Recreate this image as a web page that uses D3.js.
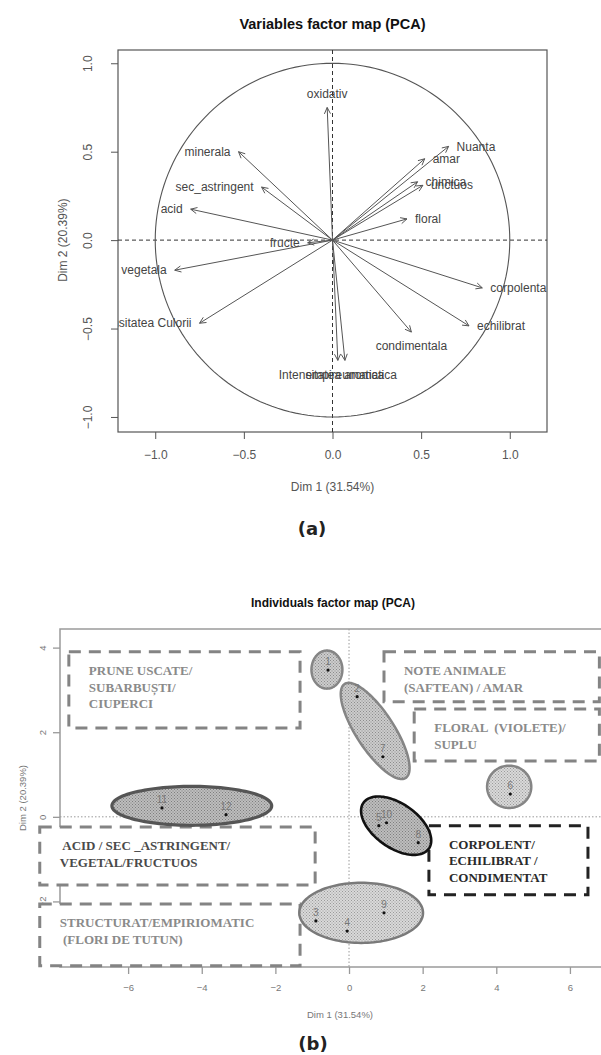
<!DOCTYPE html>
<html><head><meta charset="utf-8">
<script src="https://cdn.jsdelivr.net/npm/d3@7"></script>
<style>body{margin:0;background:#fff} svg{display:block}</style>
</head><body><svg id="c" width="601" height="1055"></svg>
<script>
// ---------- (a) Variables factor map ----------
const varNames = ["oxidativ","minerala","sec_astringent","acid","fructe","vegetala","Intensitatea Culorii","Nuanta","amar","chimica","unctuos","floral","corpolenta","echilibrat","condimentala","Intensitatea aromatica","empireumatica"];
const varDim1 = [-0.03,-0.53,-0.40,-0.80,-0.14,-0.89,-0.75,0.655,0.52,0.48,0.51,0.42,0.845,0.77,0.445,0.03,0.07];
const varDim2 = [0.75,0.50,0.30,0.175,-0.015,-0.17,-0.47,0.53,0.46,0.33,0.31,0.12,-0.27,-0.485,-0.52,-0.68,-0.68];
const varTicks = [-1.0,-0.5,0.0,0.5,1.0];

// ---------- (b) Individuals factor map ----------
const indLabels = ["1","2","3","4","5","6","7","8","9","10","11","12"];
const indDim1 = [-0.57,0.22,-0.90,-0.05,0.81,4.38,0.92,1.88,0.95,1.02,-5.08,-3.34];
const indDim2 = [3.47,2.84,-2.46,-2.70,-0.21,0.54,1.42,-0.61,-2.27,-0.14,0.21,0.05];
const indXTicks = [-6,-4,-2,0,2,4,6];
const indYTicks = [-2,0,2,4];

// group ellipses (centre and two semi-axis vectors, in Dim units)
const ellCx = [-0.60, 0.71, 4.35, -4.27, 1.28, 0.33];
const ellCy = [3.48, 2.03, 0.71, 0.26, -0.21, -2.27];
const ellUx = [0.42, 0.83, 0.60, 2.17, 0.89, 1.68];
const ellUy = [0.00, -1.11, 0.00, 0.00, -0.54, 0.00];
const ellVx = [0.00, 0.43, 0.00, 0.00, 0.34, 0.00];
const ellVy = [0.45, 0.245, 0.50, 0.46, 0.43, 0.71];

// descriptor boxes (in Dim units)
const boxX0 = [-7.61, 0.95, 1.77, -8.40, -8.40, 2.17];
const boxX1 = [-1.33, 6.80, 6.80, -0.92, -1.33, 6.49];
const boxYTop = [3.90, 3.90, 2.55, -0.24, -2.06, -0.21];
const boxYBot = [2.10, 2.72, 1.32, -1.61, -3.52, -1.84];
const boxText = [
  ["PRUNE USCATE/","SUBARBUȘTI/","CIUPERCI"],
  ["NOTE ANIMALE","(SAFTEAN) / AMAR"],
  ["FLORAL  (VIOLETE)/","SUPLU"],
  [" ACID / SEC _ASTRINGENT/","VEGETAL/FRUCTUOS"],
  ["STRUCTURAT/EMPIRIOMATIC"," (FLORI DE TUTUN)"],
  ["CORPOLENT/","ECHILIBRAT /","CONDIMENTAT"]
];

const svg = d3.select("#c");
svg.append("rect").attr("width",601).attr("height",1055).attr("fill","#fff");
const SANS = "'Liberation Sans', Arial, sans-serif";

// ================= chart (a) =================
const A = {l:118, r:547, t:50, b:432};
const xA = d3.scaleLinear().domain([-1.21,1.21]).range([A.l,A.r]);
const yA = d3.scaleLinear().domain([-1.085,1.075]).range([A.b,A.t]);
const gA = svg.append("g");

gA.append("text").attr("x",(A.l+A.r)/2).attr("y",29).attr("text-anchor","middle")
  .attr("font-family",SANS).attr("font-weight","bold").attr("font-size",14.5).attr("fill","#111")
  .text("Variables factor map (PCA)");

gA.append("rect").attr("x",A.l).attr("y",A.t).attr("width",A.r-A.l).attr("height",A.b-A.t)
  .attr("fill","none").attr("stroke","#555").attr("stroke-width",1.2);

const axLA = gA.append("g").attr("transform",`translate(${A.l},0)`)
  .call(d3.axisLeft(yA).tickValues(varTicks).tickSize(7).tickFormat(d3.format(".1f")));
axLA.select(".domain").remove();
axLA.selectAll("line").attr("stroke","#555");
axLA.selectAll("text").attr("x",0).attr("dy",0).attr("transform","translate(-26,0) rotate(-90)")
  .attr("text-anchor","middle").attr("font-family",SANS).attr("font-size",12).attr("fill","#555");

const axBA = gA.append("g").attr("transform",`translate(0,${A.b})`)
  .call(d3.axisBottom(xA).tickValues(varTicks).tickSize(7).tickFormat(d3.format(".1f")));
axBA.select(".domain").remove();
axBA.selectAll("line").attr("stroke","#555");
axBA.selectAll("text").attr("y",18).attr("font-family",SANS).attr("font-size",12).attr("fill","#555");

gA.append("text").attr("x",(A.l+A.r)/2).attr("y",491).attr("text-anchor","middle")
  .attr("font-family",SANS).attr("font-size",12).attr("fill","#555").text("Dim 1 (31.54%)");
gA.append("text").attr("transform",`translate(67,${yA(0)}) rotate(-90)`).attr("text-anchor","middle")
  .attr("font-family",SANS).attr("font-size",12).attr("fill","#555").text("Dim 2 (20.39%)");

gA.append("line").attr("x1",xA(0)).attr("x2",xA(0)).attr("y1",A.t).attr("y2",A.b)
  .attr("stroke","#333").attr("stroke-dasharray","4,3");
gA.append("line").attr("x1",A.l).attr("x2",A.r).attr("y1",yA(0)).attr("y2",yA(0))
  .attr("stroke","#333").attr("stroke-dasharray","4,3");

const circ = d3.range(0,361,2).map(a=>[Math.cos(a*Math.PI/180),Math.sin(a*Math.PI/180)]);
gA.append("path").attr("d",d3.line().x(d=>xA(d[0])).y(d=>yA(d[1]))(circ))
  .attr("fill","none").attr("stroke","#555").attr("stroke-width",1.1);

const clipA = svg.append("defs").append("clipPath").attr("id","clipA");
clipA.append("rect").attr("x",A.l).attr("y",A.t).attr("width",A.r-A.l).attr("height",A.b-A.t);

const arrows = gA.append("g");
varNames.forEach((n,i)=>{
  const x0=xA(0), y0=yA(0), x1=xA(varDim1[i]), y1=yA(varDim2[i]);
  arrows.append("line").attr("x1",x0).attr("y1",y0).attr("x2",x1).attr("y2",y1)
    .attr("stroke","#555").attr("stroke-width",1);
  const ang = Math.atan2(y1-y0,x1-x0), L=7, w=0.45;
  const pts = [[x1-L*Math.cos(ang-w), y1-L*Math.sin(ang-w)],[x1,y1],[x1-L*Math.cos(ang+w), y1-L*Math.sin(ang+w)]];
  arrows.append("path").attr("d",d3.line()(pts)).attr("fill","none").attr("stroke","#555").attr("stroke-width",1);
});
const labsA = gA.append("g").attr("clip-path","url(#clipA)");
varNames.forEach((n,i)=>{
  const vx=varDim1[i], vy=varDim2[i];
  let x=xA(vx), y=yA(vy), anchor, dy;
  if (Math.abs(vy)>Math.abs(vx)) { anchor="middle"; y += vy>0 ? -14 : 14; }
  else { anchor = vx>0 ? "start":"end"; x += vx>0 ? 8 : -8; }
  labsA.append("text").attr("x",x).attr("y",y).attr("dy","0.35em").attr("text-anchor",anchor)
    .attr("font-family",SANS).attr("font-size",12).attr("fill","#444").text(n);
});

gA.append("text").attr("x",312).attr("y",535).attr("text-anchor","middle")
  .attr("font-family","'DejaVu Sans', sans-serif").attr("font-weight","bold").attr("font-size",18)
  .attr("fill","#222").text("(a)");

// ================= chart (b) =================
const B = {l:60, r:620, t:629, b:967};
const xB = d3.scaleLinear().domain([-7.85,7.36]).range([B.l,B.r]);
const yB = d3.scaleLinear().domain([-3.55,4.44]).range([B.b,B.t]);
const gB = svg.append("g");

const defs = svg.select("defs");
function pattern(id, base, dot){
  const p = defs.append("pattern").attr("id",id).attr("width",3).attr("height",3).attr("patternUnits","userSpaceOnUse");
  p.append("rect").attr("width",3).attr("height",3).attr("fill",base);
  p.append("rect").attr("width",1).attr("height",1).attr("fill",dot);
  p.append("rect").attr("x",1.5).attr("y",1.5).attr("width",1).attr("height",1).attr("fill",dot);
}
pattern("pL","#d9d9d9","#9a9a9a");
pattern("pM","#cccccc","#8c8c8c");
pattern("pD","#bdbdbd","#7e7e7e");

gB.append("text").attr("x",333).attr("y",607).attr("text-anchor","middle")
  .attr("font-family",SANS).attr("font-weight","bold").attr("font-size",12).attr("fill","#111")
  .text("Individuals factor map (PCA)");

// dotted zero lines
gB.append("line").attr("x1",xB(0)).attr("x2",xB(0)).attr("y1",B.t).attr("y2",B.b)
  .attr("stroke","#999").attr("stroke-dasharray","1.5,2");
gB.append("line").attr("x1",B.l).attr("x2",B.r).attr("y1",yB(0)).attr("y2",yB(0))
  .attr("stroke","#999").attr("stroke-dasharray","1.5,2");

// frame
gB.append("rect").attr("x",B.l).attr("y",B.t).attr("width",B.r-B.l).attr("height",B.b-B.t)
  .attr("fill","none").attr("stroke","#9a9a9a").attr("stroke-width",1.5);

const axLB = gB.append("g").attr("transform",`translate(${B.l},0)`)
  .call(d3.axisLeft(yB).tickValues(indYTicks).tickSize(7));
axLB.select(".domain").remove();
axLB.selectAll("line").attr("stroke","#999").attr("stroke-width",1.3);
axLB.selectAll("text").attr("x",0).attr("dy",0).attr("transform","translate(-14,0) rotate(-90)")
  .attr("text-anchor","middle").attr("font-family",SANS).attr("font-size",9.5).attr("fill","#777");

const axBB = gB.append("g").attr("transform",`translate(0,${B.b})`)
  .call(d3.axisBottom(xB).tickValues(indXTicks).tickSize(7));
axBB.select(".domain").remove();
axBB.selectAll("line").attr("stroke","#999").attr("stroke-width",1.3);
axBB.selectAll("text").attr("y",17).attr("font-family",SANS).attr("font-size",9.5).attr("fill","#777");

gB.append("text").attr("x",340).attr("y",1018).attr("text-anchor","middle")
  .attr("font-family",SANS).attr("font-size",9.5).attr("fill","#777").text("Dim 1 (31.54%)");
gB.append("text").attr("transform",`translate(26,${(B.t+B.b)/2}) rotate(-90)`).attr("text-anchor","middle")
  .attr("font-family",SANS).attr("font-size",9.5).attr("fill","#777").text("Dim 2 (20.39%)");

// boxes
const boxStroke = ["#848484","#848484","#848484","#848484","#848484","#222"];
const boxFill = ["#8a8a8a","#8a8a8a","#8a8a8a","#4a4a4a","#8a8a8a","#2a2a2a"];
const gBox = gB.append("g");
boxX0.forEach((x0,i)=>{
  const X0=xB(x0), X1=xB(boxX1[i]), Y0=yB(boxYTop[i]), Y1=yB(boxYBot[i]);
  gBox.append("rect").attr("x",X0).attr("y",Y0).attr("width",X1-X0).attr("height",Y1-Y0)
    .attr("fill","#fff").attr("stroke",boxStroke[i]).attr("stroke-width",3).attr("stroke-dasharray","12,8");
  boxText[i].forEach((t,j)=>{
    gBox.append("text").attr("x",X0+20).attr("y",Y0+23+j*16.7).attr("xml:space","preserve")
      .style("white-space","pre")
      .attr("font-family","'Liberation Serif','Times New Roman',serif").attr("font-weight","bold")
      .attr("font-size",13).attr("fill",boxFill[i]).text(t);
  });
});

// ellipses
const ellStroke = ["#858585","#858585","#858585","#555","#111","#7a7a7a"];
const ellWidth = [2.5,2.5,2.5,3.2,2.6,2.5];
const ellPat = ["pM","pM","pL","pD","pD","pL"];
const gEl = gB.append("g");
ellCx.forEach((cx,i)=>{
  const pts = d3.range(0,361,3).map(a=>{
    const t=a*Math.PI/180;
    return [cx+ellUx[i]*Math.cos(t)+ellVx[i]*Math.sin(t), ellCy[i]+ellUy[i]*Math.cos(t)+ellVy[i]*Math.sin(t)];
  });
  gEl.append("path").attr("d",d3.line().x(d=>xB(d[0])).y(d=>yB(d[1]))(pts)+"Z")
    .attr("fill",`url(#${ellPat[i]})`).attr("stroke",ellStroke[i]).attr("stroke-width",ellWidth[i]);
});

// points
const gP = gB.append("g");
indLabels.forEach((l,i)=>{
  gP.append("circle").attr("cx",xB(indDim1[i])).attr("cy",yB(indDim2[i])).attr("r",1.6).attr("fill","#111");
  gP.append("text").attr("x",xB(indDim1[i])).attr("y",yB(indDim2[i])-5).attr("text-anchor","middle")
    .attr("font-family",SANS).attr("font-size",10).attr("fill","#777").text(l);
});

gB.append("text").attr("x",313).attr("y",1050).attr("text-anchor","middle")
  .attr("font-family","'DejaVu Sans', sans-serif").attr("font-weight","bold").attr("font-size",18)
  .attr("fill","#222").text("(b)");
</script></body></html>
